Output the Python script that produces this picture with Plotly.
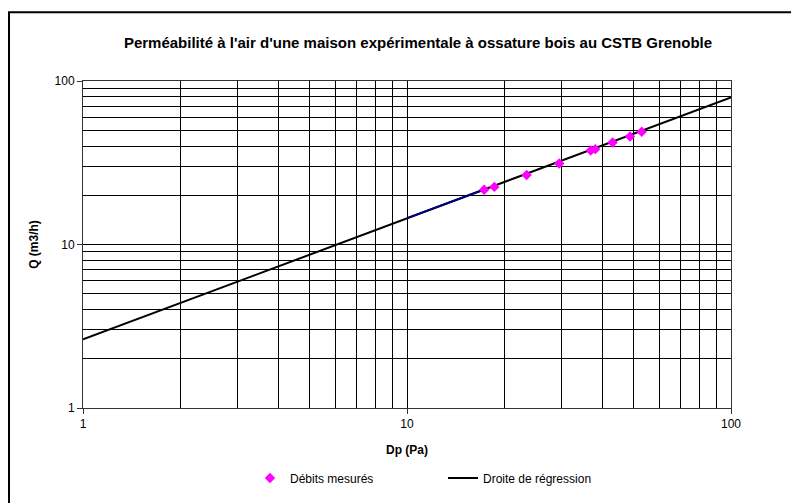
import plotly.graph_objects as go

# Measured data
dp_measured = [17.3, 18.6, 23.4, 29.5, 36.9, 38.1, 43.1, 48.8, 53.0]
q_measured = [21.6, 22.5, 26.6, 31.3, 37.6, 38.3, 42.1, 45.8, 48.9]

# Regression line (Q = 2.63 * Dp^0.741)
reg_dp = [1, 100]
reg_q = [2.63, 79.4]

# Trend segment (navy)
trend_dp = [10, 17.3]
trend_q = [14.5, 21.7]

minor_vals = [2, 3, 4, 5, 6, 7, 8, 9, 20, 30, 40, 50, 60, 70, 80, 90]
major_vals = [1, 10, 100]
major_text = ["1", "10", "100"]

W, H = 791, 503
# plot area in page pixels
PX0, PX1, PY0, PY1 = 83, 731, 81, 409
L, T = PX0, PY0
R, B = W - PX1, H - PY1
pw, ph = PX1 - PX0, PY1 - PY0

def px_x(p):
    return (p - PX0) / pw

def px_y(p):
    return 1 - (p - PY0) / ph

FONT = "Liberation Sans, Arial"

fig = go.Figure()
fig.add_trace(go.Scatter(x=reg_dp, y=reg_q, mode="lines", name="Droite de régression",
                         line=dict(color="black", width=2)))
fig.add_trace(go.Scatter(x=trend_dp, y=trend_q, mode="lines", showlegend=False,
                         line=dict(color="#000080", width=2), hoverinfo="skip"))
fig.add_trace(go.Scatter(x=dp_measured, y=q_measured, mode="markers", name="Débits mesurés",
                         marker=dict(symbol="diamond", color="#FF00FF", size=8)))

axis_common = dict(
    type="log",
    tickvals=major_vals, ticktext=major_text,
    showgrid=True, gridcolor="black", gridwidth=1,
    minor=dict(tickvals=minor_vals, showgrid=True, gridcolor="black", gridwidth=1, ticks=""),
    showline=True, linecolor="#333", linewidth=1, mirror=True,
    ticks="outside", ticklen=5, tickcolor="#333",
    tickfont=dict(family=FONT, size=12, color="black"),
    zeroline=False,
)

fig.update_xaxes(range=[0, 2], title=dict(text="<b>Dp (Pa)</b>", standoff=15,
                 font=dict(family=FONT, size=12, color="black")), **axis_common)
fig.update_yaxes(range=[0, 2], title=dict(text="<b>Q (m3/h)</b>", standoff=13,
                 font=dict(family=FONT, size=12, color="black")), **axis_common)

fig.update_layout(
    width=W, height=H,
    margin=dict(l=L, r=R, t=T, b=B),
    paper_bgcolor="white", plot_bgcolor="white",
    font=dict(family=FONT, size=12, color="black"),
    title=dict(text="<b>Perméabilité à l'air d'une maison expérimentale à ossature bois au CSTB Grenoble</b>",
               x=px_x(418), xref="paper", xanchor="center",
               y=1 - 43 / H, yref="container", yanchor="middle",
               font=dict(family=FONT, size=15, color="black")),
    legend=dict(orientation="h", x=px_x(250), xanchor="left", y=px_y(478), yanchor="middle",
                traceorder="reversed", entrywidth=148, entrywidthmode="pixels",
                font=dict(family=FONT, size=12, color="black"),
                bgcolor="rgba(0,0,0,0)"),
    shapes=[dict(type="rect", xref="paper", yref="paper",
                 x0=px_x(9), y0=px_y(560), x1=px_x(840), y1=px_y(12),
                 line=dict(color="black", width=2), fillcolor="rgba(0,0,0,0)", layer="above")],
    showlegend=True,
)

fig.write_html("out.html",
               config={"displayModeBar": False},
               post_script="document.body.style.margin='0';document.body.style.overflow='hidden';")
